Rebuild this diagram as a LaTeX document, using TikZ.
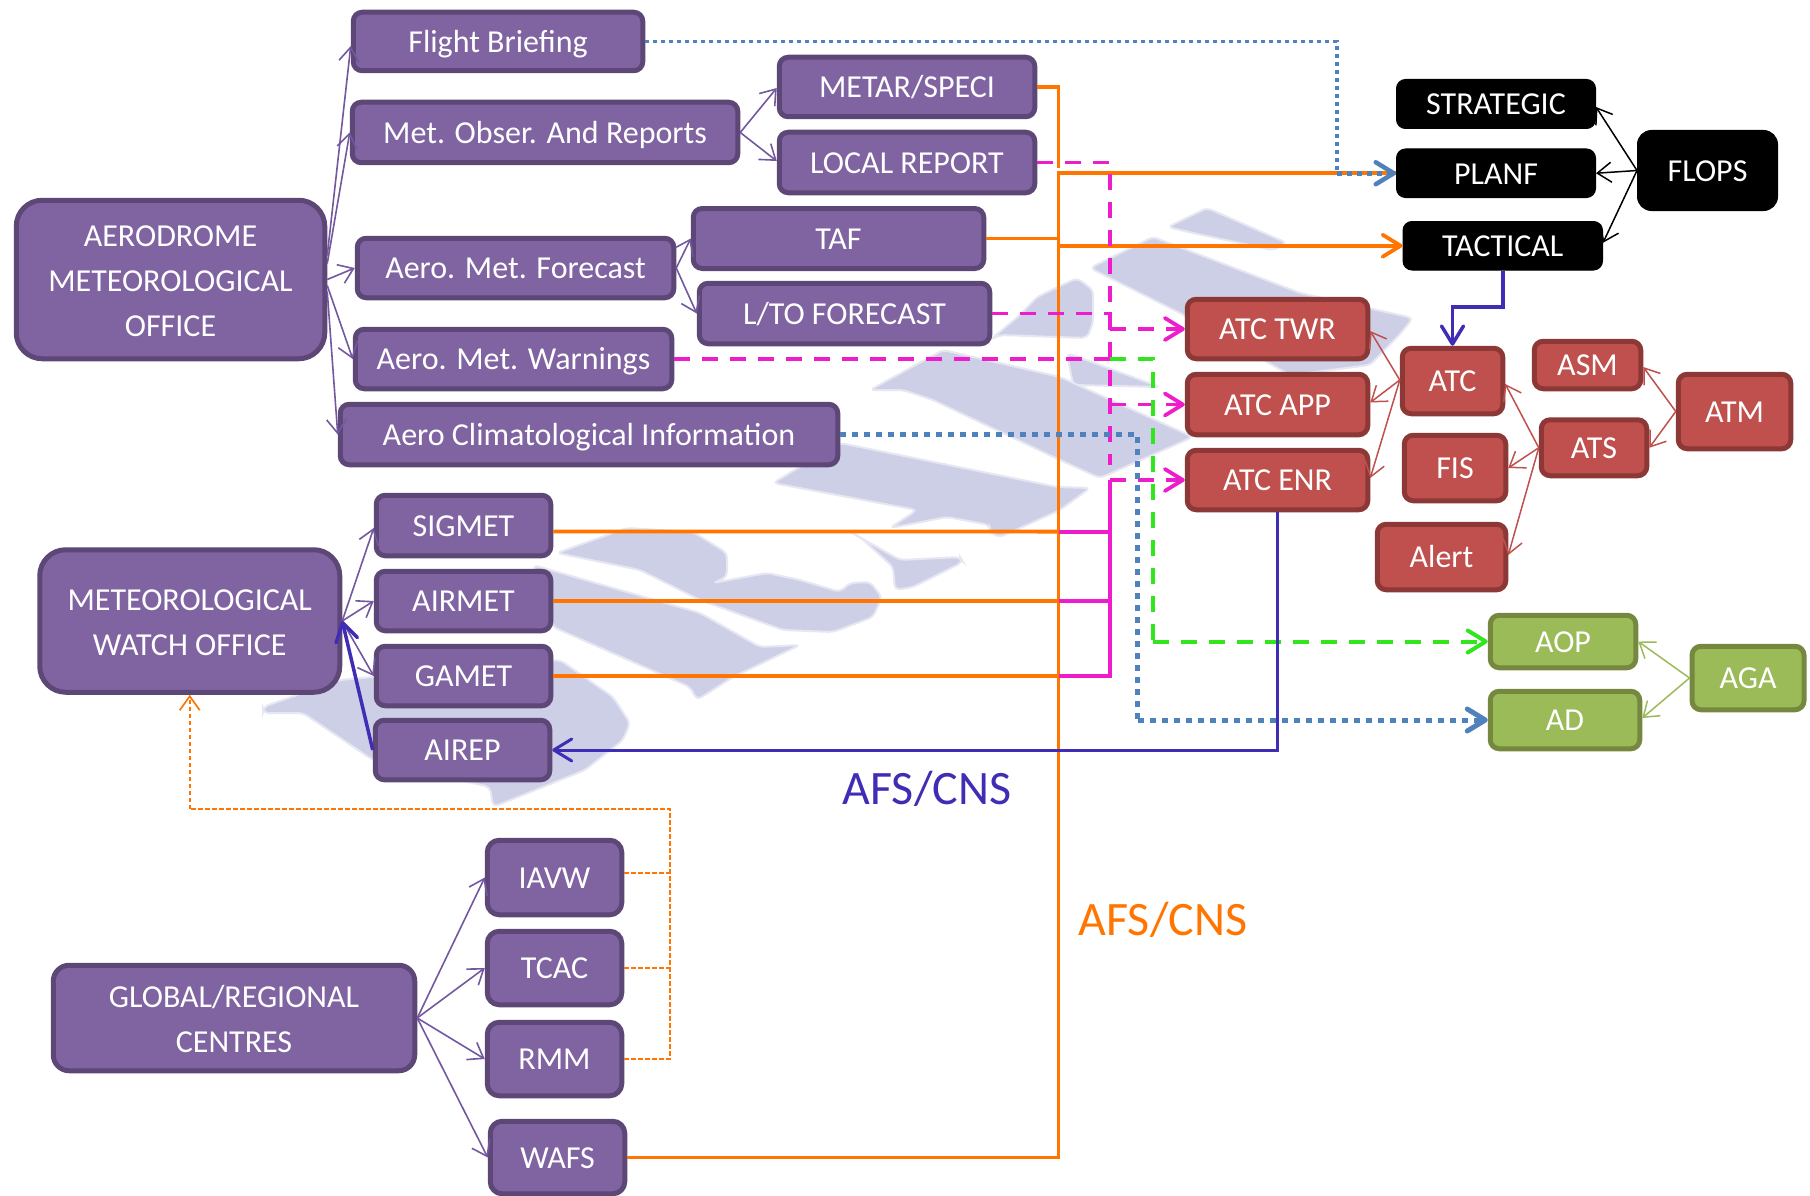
\documentclass[tikz,border=0pt]{standalone}
\usepackage{fontspec}
\setmainfont{Carlito}
\usetikzlibrary{arrows.meta}
\definecolor{wm}{HTML}{CDCFE6}
\definecolor{pfill}{HTML}{8064A2}
\definecolor{pline}{HTML}{5C4776}
\definecolor{pthin}{HTML}{7358A0}
\definecolor{rfill}{HTML}{C0504D}
\definecolor{rline}{HTML}{8C3836}
\definecolor{gfill}{HTML}{9BBB59}
\definecolor{gline}{HTML}{76883F}
\definecolor{oline}{HTML}{FF7500}
\definecolor{mline}{HTML}{EE1DCB}
\definecolor{gdash}{HTML}{32E61E}
\definecolor{bdot}{HTML}{4F81BD}
\definecolor{iline}{HTML}{3F2DB5}
\tikzset{
  basebox/.style={line width=5pt,text=white,align=center,inner sep=0pt,rounded corners=9pt,font=\fontsize{32}{45}\selectfont},
  singleline/.style={text height=27pt,text depth=5.5pt},
  purplemulti/.style={basebox,draw=pline,fill=pfill},
  purplebox/.style={purplemulti,singleline},
  bigpurple/.style={purplemulti,rounded corners=26pt},
  redbox/.style={basebox,singleline,draw=rline,fill=rfill},
  greenbox/.style={basebox,singleline,draw=gline,fill=gfill},
  blackbox/.style={basebox,singleline,line width=1pt,draw=black,fill=black,rounded corners=9pt},
  tip/.style={-{Straight Barb[length=14pt,width=20pt]}},
  thinp/.style={tip,line width=1.6pt,draw=pthin},
  thinr/.style={tip,line width=1.5pt,draw=rfill},
  thing/.style={tip,line width=1.5pt,draw=gfill},
  thinb/.style={tip,line width=1.5pt,draw=black},
  bigtip/.style={-{Straight Barb[length=18pt,width=22pt,round]}},
  orangeline/.style={line width=3.8pt,draw=oline},
  orangearrow/.style={orangeline,bigtip},
  magsolid/.style={line width=3.8pt,draw=mline},
  magdash/.style={line width=3.8pt,draw=mline,dash pattern=on 16pt off 12pt},
  grdash/.style={line width=4pt,draw=gdash,dash pattern=on 16pt off 12pt},
  blued/.style={line width=3.5pt,draw=bdot,dash pattern=on 4pt off 4pt},
  bluedd/.style={line width=5pt,draw=bdot,dash pattern=on 6pt off 6pt},
  indigo/.style={line width=3pt,draw=iline},
  ordash/.style={line width=1.7pt,draw=oline,dash pattern=on 4.5pt off 2.5pt},
  wmshape/.style={fill=wm,draw=wm!50,line width=2pt,rounded corners=5pt},
  biglabel/.style={font=\fontsize{48}{52}\selectfont,inner sep=0pt}
}
\begin{document}
\begin{tikzpicture}[x=1pt,y=-1pt]
\useasboundingbox (0,0) rectangle (1810,1196);
\fill[white] (0,0) rectangle (1810,1196);
% watermark
\filldraw[wmshape] (1168,227)--(1207,208)--(1287,243)--(1273,250)--(1193,233)--cycle;
\filldraw[wmshape] (1090,268)--(1180,313)--(1290,375)--(1370,365)--(1401,333)--(1413,318)--(1300,293)--(1153,237)--cycle;
\filldraw[wmshape] (1037,297)--(1077,278)--(1093,290)--(1093,323)--(1087,338)--(1000,335)--(990,340)--(1020,315)--cycle;
\filldraw[wmshape] (1067,353)--(1160,387)--(1073,385)--cycle;
\filldraw[wmshape] (870,390)--(943,350)--(1060,377)--(1193,437)--(1100,478)--(1060,460)--(933,400)--(903,390)--cycle;
\filldraw[wmshape] (840,443)--(1057,487)--(1090,488)--(1060,510)--(1000,537)--(990,533)--(990,525)--(947,517)--(890,528)--(917,510)--(773,483)--cycle;
\filldraw[wmshape] (847,530)--(900,560)--(960,557)--(963,562)--(913,587)--(895,590)--(893,567)--(860,537)--cycle;
\filldraw[wmshape] (557,553)--(627,528)--(693,532)--(727,553)--(727,577)--(713,583)--(767,573)--(800,580)--(840,592)--(850,583)--(870,582)--(882,597)--(873,617)--(833,632)--(783,630)--(700,600)--(640,570)--cycle;
\filldraw[wmshape] (533,565)--(700,613)--(760,647)--(800,645)--(733,677)--(697,700)--(690,687)--(553,627)--cycle;
\filldraw[wmshape] (263,707)--(340,680)--(560,660)--(613,697)--(630,723)--(623,740)--(585,770)--(493,807)--(490,787)--(373,760)--(303,713)--(263,713)--cycle;
% purple nodes
\node[bigpurple,minimum width=308.5pt,minimum height=158.5pt] (aero) at (170.5,279.5) {\rule{0pt}{25pt}AERODROME\\METEOROLOGICAL\\OFFICE};
\node[purplebox,minimum width=289.5pt,minimum height=58.5pt] (flight) at (498,41.5) {Flight Briefing};
\node[purplebox,minimum width=385.5pt,minimum height=60.5pt] (metobs) at (545,132.5) {Met. Obser. And Reports};
\node[purplebox,minimum width=255.5pt,minimum height=59.5pt] (metar) at (907,87) {METAR/SPECI};
\node[purplebox,minimum width=255.5pt,minimum height=60.5pt] (local) at (907,162.5) {LOCAL REPORT};
\node[purplebox,minimum width=290.5pt,minimum height=60pt] (taf) at (838.5,238.5) {TAF};
\node[purplebox,minimum width=290.5pt,minimum height=60.5pt] (lto) at (844.5,313.5) {L/TO FORECAST};
\node[purplebox,minimum width=316.5pt,minimum height=59.5pt] (forecast) at (515.5,268) {Aero. Met. Forecast};
\node[purplebox,minimum width=316.5pt,minimum height=59.5pt] (warn) at (513.5,359) {Aero. Met. Warnings};
\node[purplebox,minimum width=497.5pt,minimum height=60.5pt] (clim) at (589,434.5) {Aero Climatological Information};
\node[purplebox,minimum width=174.5pt,minimum height=60.5pt] (sigmet) at (463.5,525.5) {SIGMET};
\node[purplebox,minimum width=174.5pt,minimum height=59.5pt] (airmet) at (463.5,601) {AIRMET};
\node[purplebox,minimum width=174.5pt,minimum height=59.5pt] (gamet) at (463.5,676) {GAMET};
\node[purplebox,minimum width=174.5pt,minimum height=59.5pt] (airep) at (462.5,750) {AIREP};
\node[bigpurple,minimum width=300pt,minimum height=142.5pt] (mwo) at (189.75,621) {\rule{0pt}{25pt}METEOROLOGICAL\\WATCH OFFICE};
\node[purplemulti,rounded corners=16pt,minimum width=361.5pt,minimum height=105.5pt] (global) at (234,1018) {\rule{0pt}{25pt}GLOBAL/REGIONAL\\CENTRES};
\node[purplebox,rounded corners=12pt,minimum width=134.5pt,minimum height=74.5pt] (iavw) at (554.5,877.5) {IAVW};
\node[purplebox,rounded corners=12pt,minimum width=134.5pt,minimum height=73.5pt] (tcac) at (554.5,968) {TCAC};
\node[purplebox,rounded corners=12pt,minimum width=134.5pt,minimum height=73.5pt] (rmm) at (554.5,1059) {RMM};
\node[purplebox,rounded corners=12pt,minimum width=134.5pt,minimum height=72.5pt] (wafs) at (557.5,1157.5) {WAFS};
% black nodes
\node[blackbox,minimum width=199pt,minimum height=49pt] (strategic) at (1496,104) {STRATEGIC};
\node[blackbox,minimum width=199pt,minimum height=48.5pt] (planf) at (1496,173.25) {PLANF};
\node[blackbox,minimum width=199.5pt,minimum height=48.5pt] (tactical) at (1502.75,245.75) {TACTICAL};
\node[blackbox,rounded corners=14pt,minimum width=140pt,minimum height=80pt] (flops) at (1707.5,170.5) {FLOPS};
% red nodes
\node[redbox,minimum width=180.5pt,minimum height=59.5pt] (twr) at (1277.5,329) {ATC TWR};
\node[redbox,minimum width=180.5pt,minimum height=60.5pt] (app) at (1277.5,404.5) {ATC APP};
\node[redbox,minimum width=180.5pt,minimum height=59.5pt] (enr) at (1277.5,480) {ATC ENR};
\node[redbox,minimum width=100.5pt,minimum height=65.5pt] (atc) at (1452.5,381) {ATC};
\node[redbox,minimum width=101.5pt,minimum height=65.5pt] (fis) at (1455,468) {FIS};
\node[redbox,minimum width=128.5pt,minimum height=65.5pt] (alert) at (1441.5,557) {Alert};
\node[redbox,minimum width=106.5pt,minimum height=47.5pt] (asm) at (1587.5,365) {ASM};
\node[redbox,minimum width=105.5pt,minimum height=56pt] (ats) at (1594,447.75) {ATS};
\node[redbox,minimum width=112.5pt,minimum height=74.5pt] (atm) at (1734.5,411.5) {ATM};
% green nodes
\node[greenbox,minimum width=145.5pt,minimum height=52.5pt] (aop) at (1563,641.5) {AOP};
\node[greenbox,minimum width=149.5pt,minimum height=57.5pt] (ad) at (1565,720) {AD};
\node[greenbox,minimum width=112pt,minimum height=63.5pt] (aga) at (1748,678) {AGA};
% labels
\node[biglabel,text=iline] (lblblue) at (927,789) {AFS/CNS};
\node[biglabel,text=oline] (lblorange) at (1163,920) {AFS/CNS};
% bend points
\coordinate (ctop) at (1058.5,173.25);
\coordinate (cmet) at (1058.5,168);
\coordinate (ctac) at (1058.5,245.75);
\coordinate (ctaf) at (1058.5,238.5);
\coordinate (sj) at (1058.5,531.6);
\coordinate (aj) at (1058.5,601);
\coordinate (gj) at (1058.5,676);
\coordinate (sm) at (1110,531.6);
\coordinate (am) at (1110,601);
\coordinate (gm) at (1110,676);
\coordinate (em) at (1110,480);
\coordinate (md) at (1110,465);
\coordinate (twj) at (1110,329);
\coordinate (apj) at (1110,404.5);
\coordinate (grj) at (1110,359);
\coordinate (grv) at (1153,641.5);
\coordinate (bv) at (1337,173.25);
\coordinate (cv) at (1137.5,720);
\coordinate (tb) at (1502.75,307);
\coordinate (tc) at (1452.5,307);
\coordinate (ij) at (670,872.7);
\coordinate (ov) at (670,809);
\coordinate (ol) at (189.75,809);
% thin purple tree
\draw[thinp] ([yshift=24pt]aero.east) -- ([yshift=-4.5pt]flight.west);
\draw[thinp] ([yshift=16pt]aero.east) -- (metobs.west);
\draw[thinp] (aero.east) -- (forecast.west);
\draw[thinp] ([yshift=-6pt]aero.east) -- (warn.west);
\draw[thinp] ([yshift=-12pt]aero.east) -- (clim.west);
\draw[thinp] (metobs.east) -- ([yshift=-1pt]metar.west);
\draw[thinp] (metobs.east) -- ([yshift=1.5pt]local.west);
\draw[thinp] (forecast.east) -- (taf.west);
\draw[thinp] (forecast.east) -- (lto.west);
\draw[thinp] (mwo.east) -- ([yshift=-2.5pt]sigmet.west);
\draw[thinp] (mwo.east) -- (airmet.west);
\draw[thinp] (mwo.east) -- (gamet.west);
\draw[thinp] (global.east) -- (iavw.west);
\draw[thinp] (global.east) -- (tcac.west);
\draw[thinp] (global.east) -- (rmm.west);
\draw[thinp] (global.east) -- (wafs.west);
% black
\draw[thinb] (flops.west) -- ([yshift=-3pt]strategic.east);
\draw[thinb] (flops.west) -- (planf.east);
\draw[thinb] (flops.west) -- ([yshift=3pt]tactical.east);
% red
\draw[thinr] ([yshift=1pt]atc.west) -- ([yshift=-2pt]twr.east);
\draw[thinr] ([yshift=1pt]atc.west) -- ([yshift=2pt]app.east);
\draw[thinr] ([yshift=1pt]atc.west) -- ([yshift=2pt]enr.east);
\draw[thinr] (ats.west) -- ([yshift=-3pt]atc.east);
\draw[thinr] (ats.west) -- (fis.east);
\draw[thinr] (ats.west) -- ([yshift=2pt]alert.east);
\draw[thinr] (atm.west) -- ([yshift=-2pt]asm.east);
\draw[thinr] (atm.west) -- (ats.east);
% green
\draw[thing] (aga.west) -- (aop.east);
\draw[thing] (aga.west) -- ([yshift=2pt]ad.east);
% orange thick
\draw[orangeline] (wafs.east) -| (ctop) -- (planf.west);
\draw[orangeline] (metar.east) -| (cmet);
\draw[orangeline] (taf.east) -- (ctaf);
\draw[orangearrow] (ctac) -- (tactical.west);
\draw[orangeline] ([yshift=-6pt]sigmet.east) -- (sj);
\draw[orangeline] (airmet.east) -- (aj);
\draw[orangeline] (gamet.east) -- (gj);
% magenta
\draw[magsolid] (sj) -- (sm);
\draw[magsolid] (aj) -- (am);
\draw[magsolid] (gj) -- (gm) -- (em);
\draw[magdash] (local.east) -| (md);
\draw[magdash] (lto.east) -| (twj);
\draw[magdash,bigtip] (twj) -- (twr.west);
\draw[magdash,bigtip] (apj) -- (app.west);
\draw[magdash,bigtip] (em) -- (enr.west);
\draw[magdash] (warn.east) -- (grj);
% green dashed
\draw[grdash] (grj) -| (grv);
\draw[grdash,bigtip] (grv) -- (aop.west);
% blue dotted
\draw[blued] (flight.east) -| (bv);
\draw[line width=4.5pt,draw=bdot,dash pattern=on 5pt off 5pt,bigtip] (bv) -- (planf.west);
\draw[bluedd] (clim.east) -| (cv);
\draw[bluedd,bigtip] (cv) -- (ad.west);
% indigo
\draw[indigo,bigtip] (enr.south) |- (airep.east);
\draw[indigo,line width=3.5pt,bigtip] (tactical.south) -- (tb) -- (tc) -- (atc.north);
\draw[indigo,line width=3.5pt,bigtip] (airep.west) -- (mwo.east);
% orange thin dashed
\draw[ordash] ([yshift=4.8pt]iavw.east) -- (ij);
\draw[ordash] (tcac.east) -- (tcac.east -| ov);
\draw[ordash] (rmm.east) -| (ov) -- (ol);
\draw[ordash,tip] (ol) -- (mwo.south);
\end{tikzpicture}
\end{document}
